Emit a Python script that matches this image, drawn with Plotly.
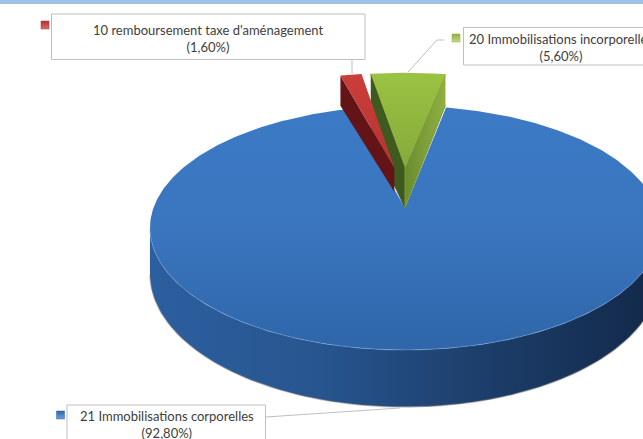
import numpy as np
import plotly.graph_objects as go

labels = ["10 remboursement taxe d'aménagement", "20 Immobilisations incorporelles", "21 Immobilisations corporelles"]
shares = [1.6, 5.6, 92.8]
share_text = ["(1,60%)", "(5,60%)", "(92,80%)"]

W, H = 643, 439
CX, CY = 405.0, 208.0
A, B, C = 251.6, 118.7, 0.164
START = -15.0
EXPLODE = [(-0.045, 0.36), (0.0, 0.36), (0.0, 0.0)]
RADIUS = [1.04, 1.04, 1.0]


def project(u, v):
    den = 1 + C * v
    return CX + A * u / den, CY - B * v / den


cum = np.cumsum([0] + shares) * 3.6 + START
spans = [(cum[i], cum[i + 1]) for i in range(3)]


def rim(i, n=60):
    a = np.radians(np.linspace(spans[i][0], spans[i][1], n))
    ex, ey = EXPLODE[i]
    return project(ex + RADIUS[i] * np.sin(a), ey + RADIUS[i] * np.cos(a))


def apex(i):
    return project(*EXPLODE[i])


def wall_depth(y):
    return 43.7 - 0.0934 * (CY - y)


def poly(x, y, colors=None, kind="vertical", fill=None, line=None, lw=0):
    tr = dict(x=list(x), y=list(y), mode="lines", fill="toself", hoverinfo="skip", showlegend=False,
              line=dict(width=lw, color=line or "rgba(0,0,0,0)"))
    if colors:
        tr["fillgradient"] = dict(type=kind, colorscale=[[k / (len(colors) - 1), c] for k, c in enumerate(colors)])
    else:
        tr["fillcolor"] = fill
    return go.Scatter(**tr)


fig = go.Figure()

# Blue slice: front wall
a = np.linspace(spans[2][0], spans[2][1], 500)
a = a[np.cos(np.radians(a)) < -C]
fx, fy = project(np.sin(np.radians(a)), np.cos(np.radians(a)))
order = np.argsort(fx)
fx, fy = fx[order], fy[order]
fb = fy + wall_depth(fy)
fig.add_trace(poly(np.r_[fx, fx[::-1]], np.r_[fy, fb[::-1]],
                   colors=["#2C5F9F", "#27558F", "#1C3D69", "#122848"], kind="horizontal"))
fig.add_trace(go.Scatter(x=fx, y=fb, mode="lines", hoverinfo="skip", showlegend=False,
                         line=dict(color="rgba(110,110,110,0.45)", width=1.5)))

# Blue slice: top face
bx, by = rim(2, 400)
ax, ay = apex(2)
fig.add_trace(poly(np.r_[ax, bx], np.r_[ay, by], colors=["#2F66A9", "#3A75BE", "#3C7AC6"]))
fig.add_trace(go.Scatter(x=fx, y=fy, mode="lines", hoverinfo="skip", showlegend=False,
                         line=dict(color="rgba(120,165,220,0.55)", width=1)))

# Green slice
gx, gy = rim(1)
ax, ay = apex(1)
ad = 40
fig.add_trace(poly([gx[0], ax, ax, gx[0]], [gy[0], ay, ay + ad, gy[0] + 62], fill="#3F5A1F", line="#3F5A1F", lw=1))
fig.add_trace(poly([gx[-1], ax, ax, gx[-1]], [gy[-1], ay, ay + ad, gy[-1] + 31],
                   colors=["#6A8C2E", "#90B044"], kind="horizontal", line="#7A9C36", lw=1))
fig.add_trace(poly(np.r_[ax, gx], np.r_[ay, gy], colors=["#86A93A", "#9BC343"]))

# Red slice
rx, ry = rim(0)
ax, ay = apex(0)
fig.add_trace(poly([rx[0], ax, ax, rx[0]], [ry[0], ay, ay + 24, ry[0] + 30], fill="#631416"))
fig.add_trace(poly(np.r_[ax, rx], np.r_[ay, ry], colors=["#B53431", "#CB3E3A"]))

# Legend keys
key_colors = [("#B5312E", "#D8706C"), ("#8FAE3C", "#C5D98A"), ("#2F66A9", "#6F9FD8")]
key_pos = [(45, 25), (456, 38), (60.5, 415)]
for (kx, ky), (c1, c2) in zip(key_pos, key_colors):
    fig.add_trace(go.Scatter(x=[kx], y=[ky], mode="markers", hoverinfo="skip", showlegend=False,
                             marker=dict(symbol="square", size=8, color=c1,
                                         gradient=dict(type="vertical", color=c2),
                                         line=dict(width=0.5, color=c1))))

grey = "#BFBFBF"
shapes = [
    dict(type="rect", x0=0, x1=W, y0=0, y1=4, fillcolor="#9DC3E6", line_width=0),
    dict(type="rect", x0=51.5, x1=365, y0=14, y1=59.5, fillcolor="white", line=dict(color=grey, width=1)),
    dict(type="rect", x0=463.5, x1=W + 20, y0=27.5, y1=65, fillcolor="white", line=dict(color=grey, width=1)),
    dict(type="rect", x0=67, x1=265.5, y0=405, y1=H + 20, fillcolor="white", line=dict(color=grey, width=1)),
    dict(type="line", x0=352, x1=352, y0=59.5, y1=74, line=dict(color=grey, width=1)),
    dict(type="path", path="M 444 40 L 437 40 L 408 72", line=dict(color=grey, width=1)),
    dict(type="path", path="M 266 417 L 400 408", line=dict(color=grey, width=1)),
]
text_pos = [(208, 38), (560.5, 47), (166.5, 424)]
annotations = [
    dict(x=tx, y=ty, text=f"{l}<br>{s}", showarrow=False, xanchor="center", yanchor="middle", align="center",
         font=dict(family="Lato", size=13, color="#404040"))
    for (tx, ty), l, s in zip(text_pos, labels, share_text)
]

fig.update_layout(
    width=W, height=H, margin=dict(l=0, r=0, t=0, b=0),
    paper_bgcolor="white", plot_bgcolor="white", showlegend=False,
    xaxis=dict(range=[0, W], visible=False, fixedrange=True),
    yaxis=dict(range=[H, 0], visible=False, fixedrange=True),
    shapes=shapes, annotations=annotations,
)
fig.write_html("out.html", config=dict(displayModeBar=False),
               post_script="document.body.style.margin='0';document.body.style.overflow='hidden';")
